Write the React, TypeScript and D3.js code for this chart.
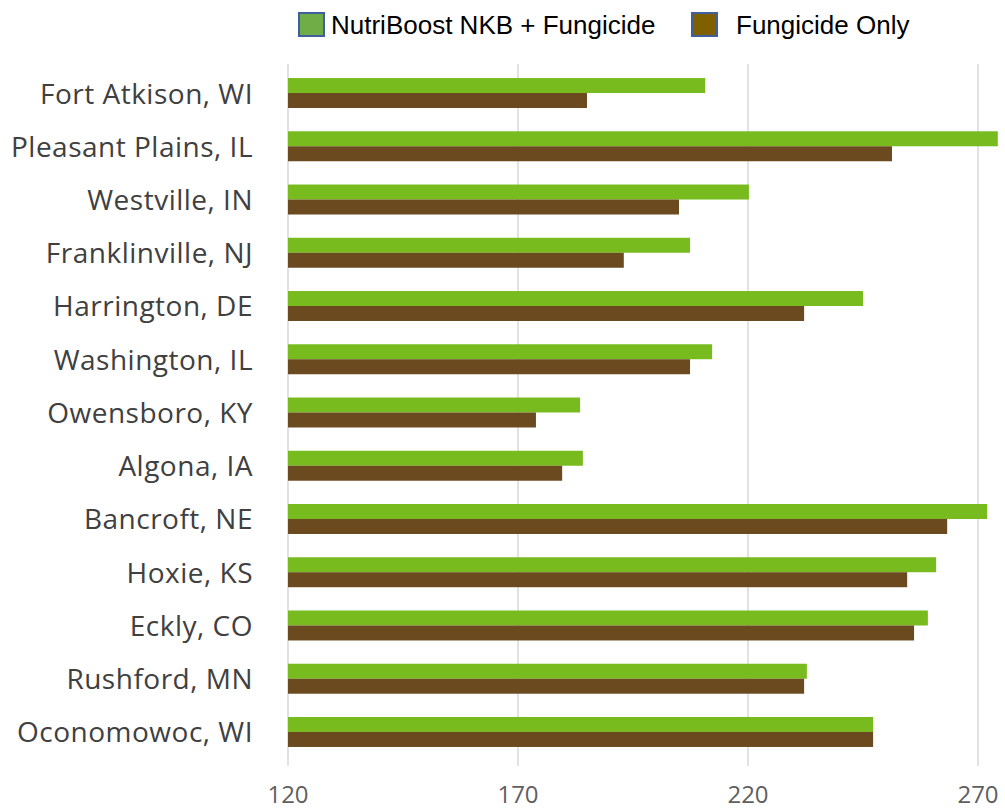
import { useEffect, useRef } from 'react';
import * as d3 from 'd3';

const locations = [
  'Fort Atkison, WI',
  'Pleasant Plains, IL',
  'Westville, IN',
  'Franklinville, NJ',
  'Harrington, DE',
  'Washington, IL',
  'Owensboro, KY',
  'Algona, IA',
  'Bancroft, NE',
  'Hoxie, KS',
  'Eckly, CO',
  'Rushford, MN',
  'Oconomowoc, WI',
];

const nutriBoost = [210.7, 274.3, 220.2, 207.4, 245, 212.2, 183.5, 184.1, 272, 260.9, 259.1, 232.8, 247.2];
const fungicideOnly = [185, 251.3, 205, 193, 232.2, 207.4, 173.9, 179.6, 263.3, 254.6, 256.1, 232.2, 247.2];

const seriesNames = ['NutriBoost NKB + Fungicide', 'Fungicide Only'];
const xTicks = [120, 170, 220, 270];

export default function App() {
  const svgRef = useRef<SVGSVGElement>(null);
  const width = 1005;
  const height = 810;

  useEffect(() => {
    const svg = d3.select(svgRef.current);
    svg.selectAll('*').remove();

    const barColors = ['#78bb1e', '#6c4a1f'];
    const swatchColors = ['#70ad47', '#7f6000'];

    const x = d3.scaleLinear().domain([120, 275]).range([288, 288 + 155 * 4.6]);
    const y = d3.scaleBand<string>()
      .domain(locations)
      .range([66.4, 758.6])
      .paddingInner(0.437)
      .paddingOuter(0.2185);
    const inner = d3.scaleBand<number>()
      .domain([0, 1])
      .range([0, y.bandwidth()]);

    // grid lines
    svg.append('g')
      .selectAll('line')
      .data(xTicks)
      .enter().append('line')
      .attr('x1', d => x(d))
      .attr('x2', d => x(d))
      .attr('y1', 64)
      .attr('y2', 766)
      .attr('stroke', '#d9d9d9')
      .attr('stroke-width', 1.5);

    // bars
    const rows = locations.map((loc, i) => ({ loc, values: [nutriBoost[i], fungicideOnly[i]] }));
    const groups = svg.append('g')
      .selectAll('g')
      .data(rows)
      .enter().append('g')
      .attr('transform', d => `translate(0,${y(d.loc)})`);

    groups.selectAll('rect')
      .data(d => d.values.map((v, k) => ({ v, k })))
      .enter().append('rect')
      .attr('x', x(120))
      .attr('y', d => inner(d.k) as number)
      .attr('width', d => x(d.v) - x(120))
      .attr('height', inner.bandwidth())
      .attr('fill', d => barColors[d.k]);

    // category labels
    svg.append('g')
      .selectAll('text')
      .data(locations)
      .enter().append('text')
      .attr('x', 253)
      .attr('y', d => (y(d) as number) + y.bandwidth() / 2 + 3)
      .attr('text-anchor', 'end')
      .attr('dominant-baseline', 'middle')
      .style('font-family', '"Open Sans", sans-serif')
      .style('font-size', '28px')
      .style('letter-spacing', '0.5px')
      .style('fill', '#404040')
      .text(d => d);

    // x tick labels
    svg.append('g')
      .selectAll('text')
      .data(xTicks)
      .enter().append('text')
      .attr('x', d => x(d))
      .attr('y', 803)
      .attr('text-anchor', 'middle')
      .style('font-family', '"Open Sans", sans-serif')
      .style('font-size', '24px')
      .style('fill', '#5f5f5f')
      .text(d => d);

    // legend
    const legendX = [299, 692];
    const legendText = [331, 736];
    const legend = svg.append('g');
    seriesNames.forEach((name, i) => {
      legend.append('rect')
        .attr('x', legendX[i])
        .attr('y', 13)
        .attr('width', 25)
        .attr('height', 23)
        .attr('fill', swatchColors[i])
        .attr('stroke', '#3f5f9f')
        .attr('stroke-width', 2);
      legend.append('text')
        .attr('x', legendText[i])
        .attr('y', 34)
        .style('font-family', '"Liberation Sans", Arial, sans-serif')
        .style('font-size', '26px')
        .style('fill', '#000')
        .text(name);
    });
  }, []);

  return (
    <svg
      ref={svgRef}
      width={width}
      height={height}
      style={{ position: 'absolute', left: 0, top: 0, background: '#fff' }}
    />
  );
}
